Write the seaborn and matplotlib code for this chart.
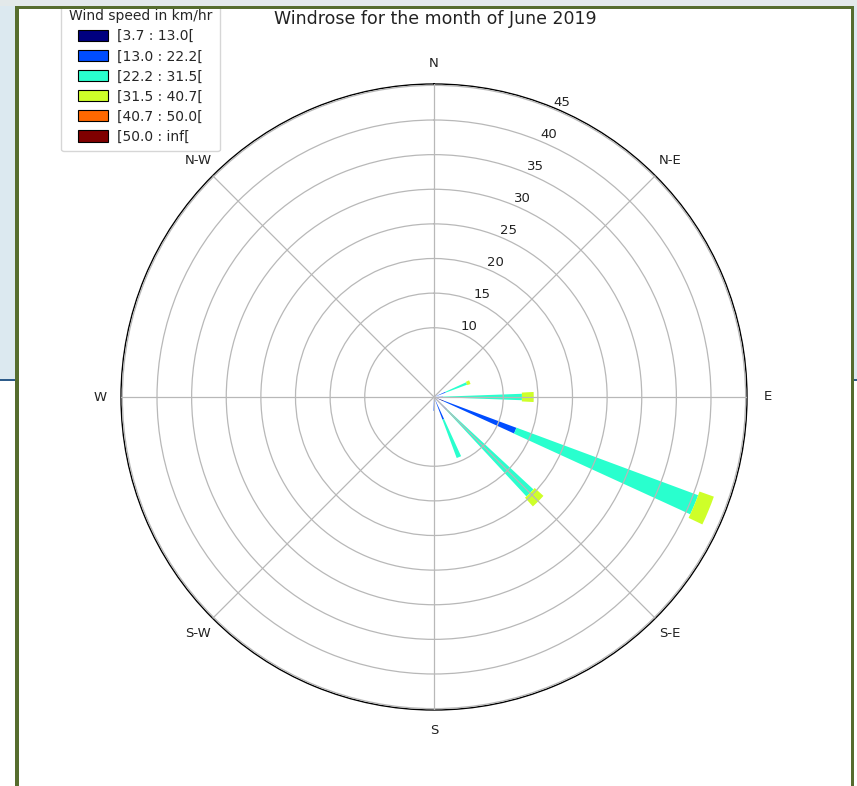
import numpy as np
import matplotlib
matplotlib.use("Agg")
import matplotlib.pyplot as plt
import seaborn as sns
from matplotlib.patches import Rectangle, Patch

# ---------------- data ----------------
directions = ["N", "NNE", "NE", "ENE", "E", "ESE", "SE", "SSE",
              "S", "SSW", "SW", "WSW", "W", "WNW", "NW", "NNW"]
direction_deg = [0, 22.5, 45, 67.5, 90, 112.5, 135, 157.5,
                 180, 202.5, 225, 247.5, 270, 292.5, 315, 337.5]
speed_bins = ["[3.7 : 13.0[", "[13.0 : 22.2[", "[22.2 : 31.5[",
              "[31.5 : 40.7[", "[40.7 : 50.0[", "[50.0 : inf["]
# frequency (%) per speed bin for each direction (non cumulative)
freq_3_13 = [0, 0, 0, 0.3, 0.3, 1.5, 0.5, 0.5, 0.5, 0, 0, 0, 0, 0, 0, 0]
freq_13_22 = [0, 0, 0, 1.5, 1.0, 11.2, 2.0, 3.0, 1.5, 0, 0, 0, 0, 0, 0, 0]
freq_22_31 = [0, 0, 0, 3.3, 11.4, 28.0, 17.1, 5.9, 0, 0, 0, 0, 0, 0, 0, 0]
freq_31_40 = [0, 0, 0, 0.5, 1.7, 2.2, 1.7, 0, 0, 0, 0, 0, 0, 0, 0, 0]
freq_40_50 = [0] * 16
freq_50_inf = [0] * 16
compass_labels = ["N", "N-E", "E", "S-E", "S", "S-W", "W", "N-W"]
compass_deg = [0, 45, 90, 135, 180, 225, 270, 315]
radial_ticks = [10, 15, 20, 25, 30, 35, 40, 45]
title = "Windrose for the month of June 2019"
legend_title = "Wind speed in km/hr"

# ---------------- style ----------------
sns.set_theme(style="white")
plt.rcParams['font.family'] = ['DejaVu Sans']

W, H = 857, 786
fig = plt.figure(figsize=(W / 100, H / 100), dpi=100, facecolor="white")

def px(x0, y0, w, h):
    return (x0 / W, 1 - (y0 + h) / H), w / W, h / H

def deco(x0, y0, w, h, color, z=20):
    (x, y), ww, hh = px(x0, y0, w, h)
    fig.add_artist(Rectangle((x, y), ww, hh, transform=fig.transFigure,
                             facecolor=color, edgecolor="none", zorder=z))

# polar axes: centre (434, 397), radius 313 px
cx, cy, R = 434, 397, 313
(ax_x, ax_y), ax_w, ax_h = px(cx - R, cy - R, 2 * R, 2 * R)
ax = fig.add_axes([ax_x, ax_y, ax_w, ax_h], projection="polar")
ax.set_theta_zero_location("N")
ax.set_theta_direction(-1)

colors = sns.color_palette([matplotlib.cm.jet(v) for v in np.linspace(0, 1, 6)])
series = [freq_3_13, freq_13_22, freq_22_31, freq_31_40, freq_40_50, freq_50_inf]
theta = np.radians(direction_deg)
bottom = np.zeros(len(directions))
widths = [np.radians(4.0), np.radians(4.0), np.radians(4.2),
          np.radians(5.8), np.radians(5.8), np.radians(5.8)]
for j, vals in enumerate(series):
    vals = np.array(vals, dtype=float)
    ax.bar(theta, vals, width=widths[j], bottom=bottom, color=colors[j],
           linewidth=0, align="center", zorder=1)
    bottom = bottom + vals

ax.set_ylim(0, 45.2)
ax.set_yticks(radial_ticks)
ax.set_yticklabels([str(t) for t in radial_ticks], fontsize=9.5, color="#222222")
ax.set_rlabel_position(22.5)
ax.set_thetagrids(compass_deg, compass_labels)
ax.tick_params(axis="x", labelsize=9.5, pad=2, colors="#222222")
ax.grid(True, color="#b8b8b8", linewidth=0.9)
ax.set_axisbelow(False)
ax.spines["polar"].set_color("black")
ax.spines["polar"].set_linewidth(1.0)
ax.set_facecolor("white")

# legend
handles = [Patch(facecolor=c, edgecolor="black", linewidth=0.8) for c in colors]
leg = ax.legend(handles, speed_bins, title=legend_title, loc="upper left",
                bbox_to_anchor=(61 / W, 1 - 1.5 / H), bbox_transform=fig.transFigure,
                fontsize=10, title_fontsize=10, handlelength=2.2, handleheight=0.85,
                labelspacing=0.44, borderpad=0.55, handletextpad=0.65,
                borderaxespad=0, frameon=True, fancybox=True)
leg.get_frame().set_edgecolor("0.8")

fig.text(435 / W, 1 - 19 / H, title, ha="center", va="center", fontsize=12.5,
         color="#222222")

# slide decorations around the screenshot
deco(0, 0, W, 5.5, "#e3e9ea")
deco(0, 5.5, 15.5, 373, "#dce9f0")
deco(854, 5.5, 3, 373, "#dce9f0")
deco(0, 378.5, 15.5, 2.5, "#2e5c8a")
deco(854, 378.5, 3, 2.5, "#2e5c8a")
deco(15.5, 5.5, 3.8, H - 5.5, "#566d2e", z=21)
deco(850.5, 5.5, 3.6, H - 5.5, "#566d2e", z=21)
deco(15.5, 5.5, 838.6, 3, "#566d2e", z=21)

fig.savefig("out.png", dpi=100, facecolor="white")
